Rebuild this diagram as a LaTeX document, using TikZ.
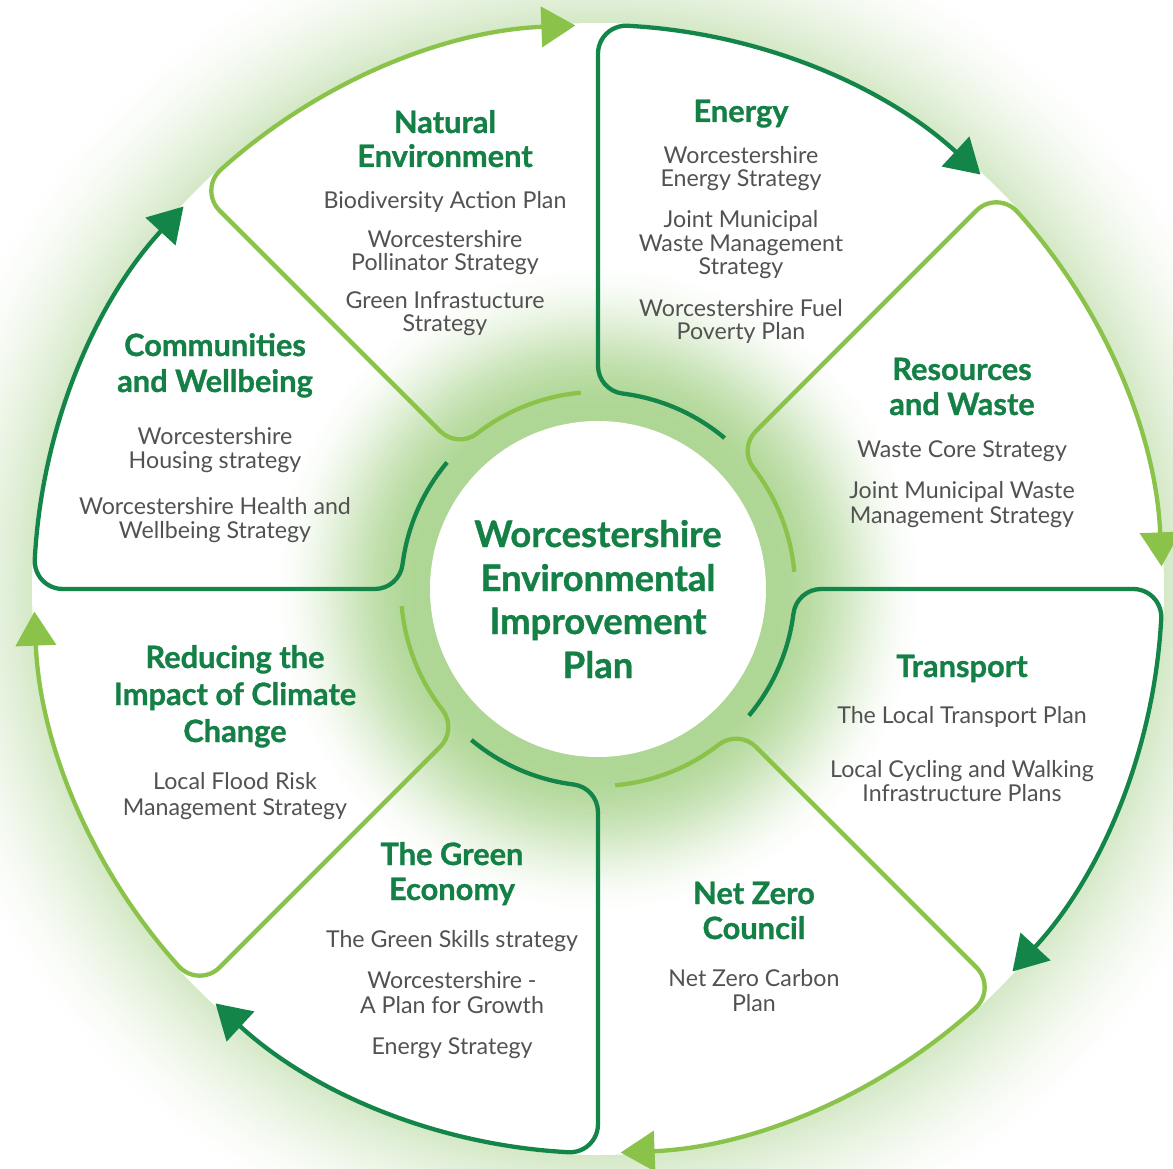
\documentclass[tikz,border=0pt]{standalone}
\usepackage{fontspec}
\setmainfont{Lato}[BoldFeatures={FakeBold=1.0}]
\usetikzlibrary{arrows.meta}
\definecolor{dk}{RGB}{19,133,72}
\definecolor{lt}{RGB}{139,195,74}
\definecolor{tgreen}{RGB}{20,128,70}
\definecolor{tgray}{RGB}{82,82,82}
\definecolor{og0}{RGB}{212,232,198}
\definecolor{ig0}{RGB}{174,214,148}
\newcommand\TL[5]{\node[#1] (#2) at (#3,#4) {#5};}
\tikzset{
  seg/.style={line width=4.3pt},
  ttl/.style={font=\bfseries\fontsize{30.8}{36}\selectfont, text=tgreen, anchor=base, inner sep=0pt},
  bdy/.style={font=\fontsize{23.2}{26}\selectfont, text=tgray, anchor=base, inner sep=0pt},
  ctr/.style={font=\bfseries\fontsize{36.4}{42}\selectfont, text=tgreen, anchor=base, inner sep=0pt}
}
\begin{document}
\begin{tikzpicture}[x=1pt,y=1pt]
\useasboundingbox (-598,-579) rectangle (575,589);
\fill[white] (-598,-579) rectangle (575,589);
% outer glow
\foreach \r in {700,698,...,566}{
  \pgfmathsetmacro{\tt}{min(1,max(0,(\r-566)/124))}
  \pgfmathsetmacro{\pp}{100*(1-\tt)^1.6}
  \fill[og0!\pp!white] (0,0) circle (\r pt);
}
\fill[white] (0,0) circle (566pt);
% inner glow
\foreach \r in {332,330,...,170}{
  \pgfmathsetmacro{\tt}{min(1,max(0,(\r-176)/154))}
  \pgfmathsetmacro{\pp}{100*(1-(3*\tt*\tt-2*\tt*\tt*\tt))}
  \fill[ig0!\pp!white] (0,0) circle (\r pt);
}
\node[circle, fill=white, minimum size=336pt, inner sep=0pt] (hub) at (0,0) {};
\foreach \t/\c in {90/dk,45/lt,0/dk,-45/lt,-90/dk,-135/lt,180/dk,135/lt}{
  \begin{scope}[rotate=\t]
  \draw[seg, color=\c, -{Triangle[length=34pt,width=40pt]}]
    (-40:197) arc[start angle=-40, end angle=-7.149, radius=197pt]
    arc[start angle=172.851, end angle=90, radius=28pt]
    -- (535.27,0)
    arc[start angle=90, end angle=-2.995, radius=28pt]
    arc[start angle=-2.995, end angle=-42.7, radius=564pt];
  \end{scope}
}
\begin{scope}[shift={(-598pt,589pt)}, y=-1pt]
% Natural Environment
\TL{ttl}{na1}{445}{133}{Natural}
\TL{ttl}{na2}{445}{167}{Environment}
\TL{bdy}{na3}{445}{209}{Biodiversity Action Plan}
\TL{bdy}{na4}{445}{248}{Worcestershire}
\TL{bdy}{na5}{445}{271}{Pollinator Strategy}
\TL{bdy}{na6}{445}{309}{Green Infrastucture}
\TL{bdy}{na7}{445}{332}{Strategy}
% Energy
\TL{ttl}{en1}{741}{122}{Energy}
\TL{bdy}{en2}{741}{164}{Worcestershire}
\TL{bdy}{en3}{741}{187}{Energy Strategy}
\TL{bdy}{en4}{741}{228}{Joint Municipal}
\TL{bdy}{en5}{741}{252}{Waste Management}
\TL{bdy}{en6}{741}{275}{Strategy}
\TL{bdy}{en7}{741}{317}{Worcestershire Fuel}
\TL{bdy}{en8}{741}{340}{Poverty Plan}
% Resources and Waste
\TL{ttl}{rw1}{962}{380}{Resources}
\TL{ttl}{rw2}{962}{415}{and Waste}
\TL{bdy}{rw3}{962}{457}{Waste Core Strategy}
\TL{bdy}{rw4}{962}{498}{Joint Municipal Waste}
\TL{bdy}{rw5}{962}{523}{Management Strategy}
% Transport
\TL{ttl}{tr1}{962}{677}{Transport}
\TL{bdy}{tr2}{962}{723}{The Local Transport Plan}
\TL{bdy}{tr3}{962}{777}{Local Cycling and Walking}
\TL{bdy}{tr4}{962}{801}{Infrastructure Plans}
% Net Zero Council
\TL{ttl}{nz1}{754}{904}{Net Zero}
\TL{ttl}{nz2}{754}{939}{Council}
\TL{bdy}{nz3}{754}{986}{Net Zero Carbon}
\TL{bdy}{nz4}{754}{1011}{Plan}
% The Green Economy
\TL{ttl}{ge1}{452}{865}{The Green}
\TL{ttl}{ge2}{452}{900}{Economy}
\TL{bdy}{ge3}{452}{947}{The Green Skills strategy}
\TL{bdy}{ge4}{452}{988}{Worcestershire -}
\TL{bdy}{ge5}{452}{1013}{A Plan for Growth}
\TL{bdy}{ge6}{452}{1054}{Energy Strategy}
% Reducing the Impact of Climate Change
\TL{ttl}{rc1}{235}{668}{Reducing the}
\TL{ttl}{rc2}{235}{705}{Impact of Climate}
\TL{ttl}{rc3}{235}{742}{Change}
\TL{bdy}{rc4}{235}{789}{Local Flood Risk}
\TL{bdy}{rc5}{235}{815}{Management Strategy}
% Communities and Wellbeing
\TL{ttl}{cw1}{215}{356}{Communities}
\TL{ttl}{cw2}{215}{392}{and Wellbeing}
\TL{bdy}{cw3}{215}{444}{Worcestershire}
\TL{bdy}{cw4}{215}{468}{Housing strategy}
\TL{bdy}{cw5}{215}{514}{Worcestershire Health and}
\TL{bdy}{cw6}{215}{538}{Wellbeing Strategy}
% centre
\TL{ctr}{c1}{598}{547}{Worcestershire}
\TL{ctr}{c2}{598}{591}{Environmental}
\TL{ctr}{c3}{598}{634}{Improvement}
\TL{ctr}{c4}{598}{678}{Plan}
\end{scope}
\end{tikzpicture}
\end{document}
